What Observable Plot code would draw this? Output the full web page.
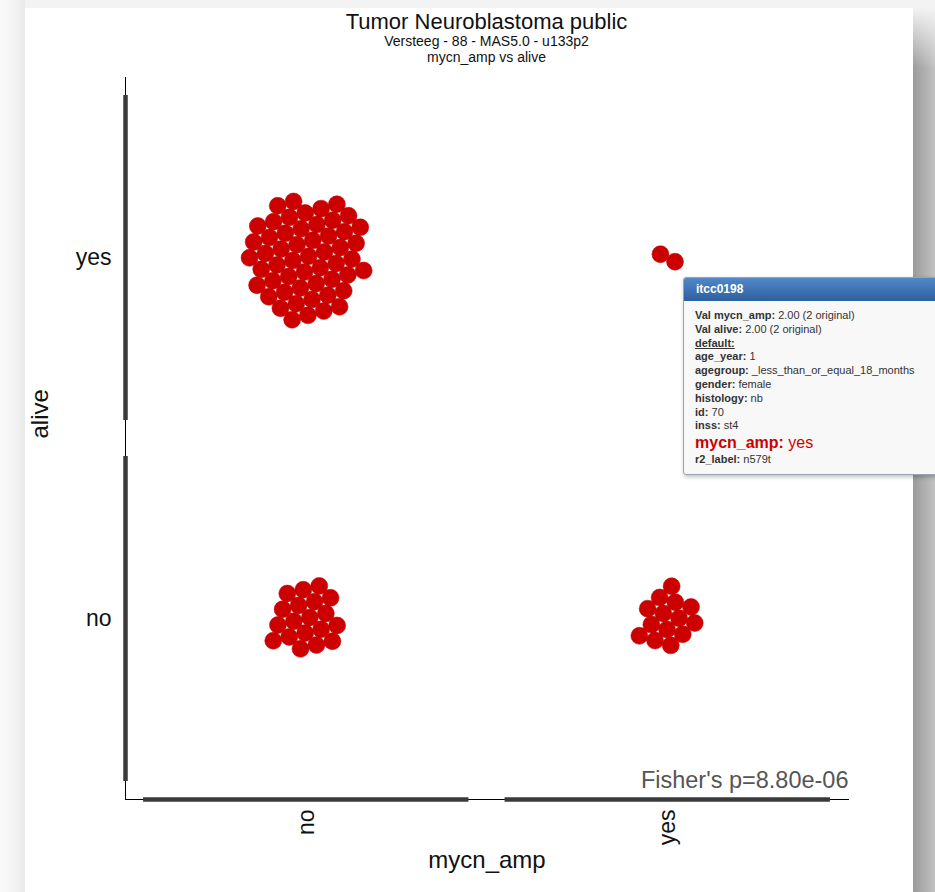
<!DOCTYPE html>
<html><head><meta charset="utf-8">
<script src="https://cdn.jsdelivr.net/npm/d3@7"></script>
<script src="https://cdn.jsdelivr.net/npm/@observablehq/plot@0.6"></script>
<style>
html,body{margin:0;padding:0;width:935px;height:892px;overflow:hidden;background:#f3f3f3;font-family:"Liberation Sans",Arial,sans-serif;}
#leftstrip{position:absolute;left:0;top:0;width:25px;height:892px;background:linear-gradient(to right,#fafafa,#f3f3f3 60%,#e9e9e9);}
#shadow{position:absolute;left:913px;top:8px;width:22px;height:884px;background:linear-gradient(to bottom,rgba(243,243,243,1) 0px,rgba(243,243,243,0) 60px),linear-gradient(to right,#9a9a9a,#aeaeae 50%,#c2c2c2);}
#panel{position:absolute;left:25px;top:8px;width:888px;height:884px;background:#fff;}
#titles{position:absolute;left:100px;width:723px;top:1px;text-align:center;color:#111;}
#t1{font-size:22px;line-height:25px;}
#t2,#t3{font-size:14px;line-height:15.5px;}
#chart{position:absolute;left:0;top:62px;}
#tip{position:absolute;left:683px;top:277px;width:275px;height:196px;border:1px solid #9aa4b0;border-radius:3px;background:#f8f8f8;box-shadow:1px 2px 4px rgba(0,0,0,0.25);overflow:hidden;font-size:11px;color:#333;}
#tiphead{height:23px;line-height:23px;background:linear-gradient(#5288c8,#2d5f9f);color:#fff;font-weight:bold;padding-left:12px;font-size:12px;}
#tipbody{padding:8px 11px;line-height:13.8px;white-space:nowrap;}
#tipbody b{font-weight:bold;}
.big{color:#cc0000;font-size:16px;line-height:20px;}
</style></head>
<body>
<div id="leftstrip"></div>
<div id="shadow"></div>
<div id="panel">
  <div id="titles"><div id="t1"></div><div id="t2"></div><div id="t3"></div></div>
  <div id="chart"></div>
</div>
<div id="tip"><div id="tiphead"></div><div id="tipbody"></div></div>
<script>
// ---- data ----
const titleText = "Tumor Neuroblastoma public";
const subtitleText = "Versteeg - 88 - MAS5.0 - u133p2";
const subtitle2Text = "mycn_amp vs alive";
const xLabel = "mycn_amp";
const yLabel = "alive";
const xCategories = ["no", "yes"];   // mycn_amp
const yCategories = ["no", "yes"];   // alive
const cellX = ["no", "no", "yes", "yes"];
const cellY = ["yes", "no", "yes", "no"];
const cellCount = [53, 19, 2, 14];
const fisherText = "Fisher's p=8.80e-06";
const tipTitle = "itcc0198";
const tipLines = [
  ["Val mycn_amp:", "2.00 (2 original)"],
  ["Val alive:", "2.00 (2 original)"],
  ["default:", ""],
  ["age_year:", "1"],
  ["agegroup:", "_less_than_or_equal_18_months"],
  ["gender:", "female"],
  ["histology:", "nb"],
  ["id:", "70"],
  ["inss:", "st4"],
  ["mycn_amp:", "yes"],
  ["r2_label:", "n579t"]
];

// ---- layout ----
const W = 888, H = 822, mL = 100, mR = 65, mT = 7, mB = 93;
const xDomain = [0.5, 2.5], yDomain = [0.5, 2.5];
const pxX = (W - mL - mR) / (xDomain[1] - xDomain[0]);
const pxY = (H - mT - mB) / (yDomain[1] - yDomain[0]);
const dotR = 8.5;

function pack(n) {
  const nodes = Array.from({length: n}, () => ({}));
  d3.forceSimulation(nodes)
    .force("x", d3.forceX(0).strength(0.06))
    .force("y", d3.forceY(0).strength(0.06))
    .force("c", d3.forceCollide(8.2).iterations(4))
    .stop().tick(500);
  return nodes;
}

const samples = [];
cellCount.forEach((n, i) => {
  const xv = xCategories.indexOf(cellX[i]) + 1;
  const yv = yCategories.indexOf(cellY[i]) + 1;
  pack(n).forEach(p => samples.push({x: xv + p.x / pxX, y: yv + p.y / pxY}));
});

const xCats = xCategories.map((c, i) => ({v: i + 1, c}));
const yCats = yCategories.map((c, i) => ({v: i + 1, c}));

document.getElementById("t1").textContent = titleText;
document.getElementById("t2").textContent = subtitleText;
document.getElementById("t3").textContent = subtitle2Text;

const plot = Plot.plot({
  width: W, height: H,
  marginLeft: mL, marginRight: mR, marginTop: mT, marginBottom: mB,
  style: {fontFamily: "Liberation Sans, Arial, sans-serif", color: "#111", background: "transparent"},
  x: {domain: xDomain, axis: null},
  y: {domain: yDomain, axis: null},
  marks: [
    Plot.frame({anchor: "left", stroke: "#000", strokeWidth: 1}),
    Plot.frame({anchor: "bottom", stroke: "#000", strokeWidth: 1}),
    Plot.ruleX(yCats, {x: () => xDomain[0], y1: d => d.v - 0.45, y2: d => d.v + 0.45, stroke: "#3a3a3a", strokeWidth: 4.5}),
    Plot.ruleY(xCats, {y: () => yDomain[0], x1: d => d.v - 0.45, x2: d => d.v + 0.45, stroke: "#3a3a3a", strokeWidth: 4.5}),
    Plot.axisY({ticks: yCats.map(d => d.v), tickFormat: d => yCategories[d - 1], tickSize: 0, tickPadding: 14, fontSize: 23, label: null}),
    Plot.axisX({ticks: xCats.map(d => d.v), tickFormat: d => xCategories[d - 1], tickSize: 0, tickPadding: 10, tickRotate: -90, fontSize: 23, label: null}),
    Plot.text([yLabel], {text: d => d, frameAnchor: "left", dx: -85, rotate: -90, fontSize: 24, fill: "#111"}),
    Plot.text([xLabel], {text: d => d, frameAnchor: "bottom", dy: 68, fontSize: 24, fill: "#111"}),
    Plot.dot(samples, {x: "x", y: "y", r: dotR, fill: "#cc0000", stroke: "#b80000", strokeWidth: 0.5}),
    Plot.text([fisherText], {text: d => d, frameAnchor: "bottom-right", textAnchor: "end", dy: -12, fontSize: 23.5, fill: "#555"})
  ]
});
document.getElementById("chart").appendChild(plot);

// tooltip
document.getElementById("tiphead").textContent = tipTitle;
const body = document.getElementById("tipbody");
tipLines.forEach(([k, v], i) => {
  const div = document.createElement("div");
  const b = document.createElement("b");
  b.textContent = k;
  if (k === "default:") b.style.textDecoration = "underline";
  div.appendChild(b);
  if (v) div.appendChild(document.createTextNode(" " + v));
  if (k === "mycn_amp:" && i > 1) div.className = "big";
  body.appendChild(div);
});
</script>
</body></html>
